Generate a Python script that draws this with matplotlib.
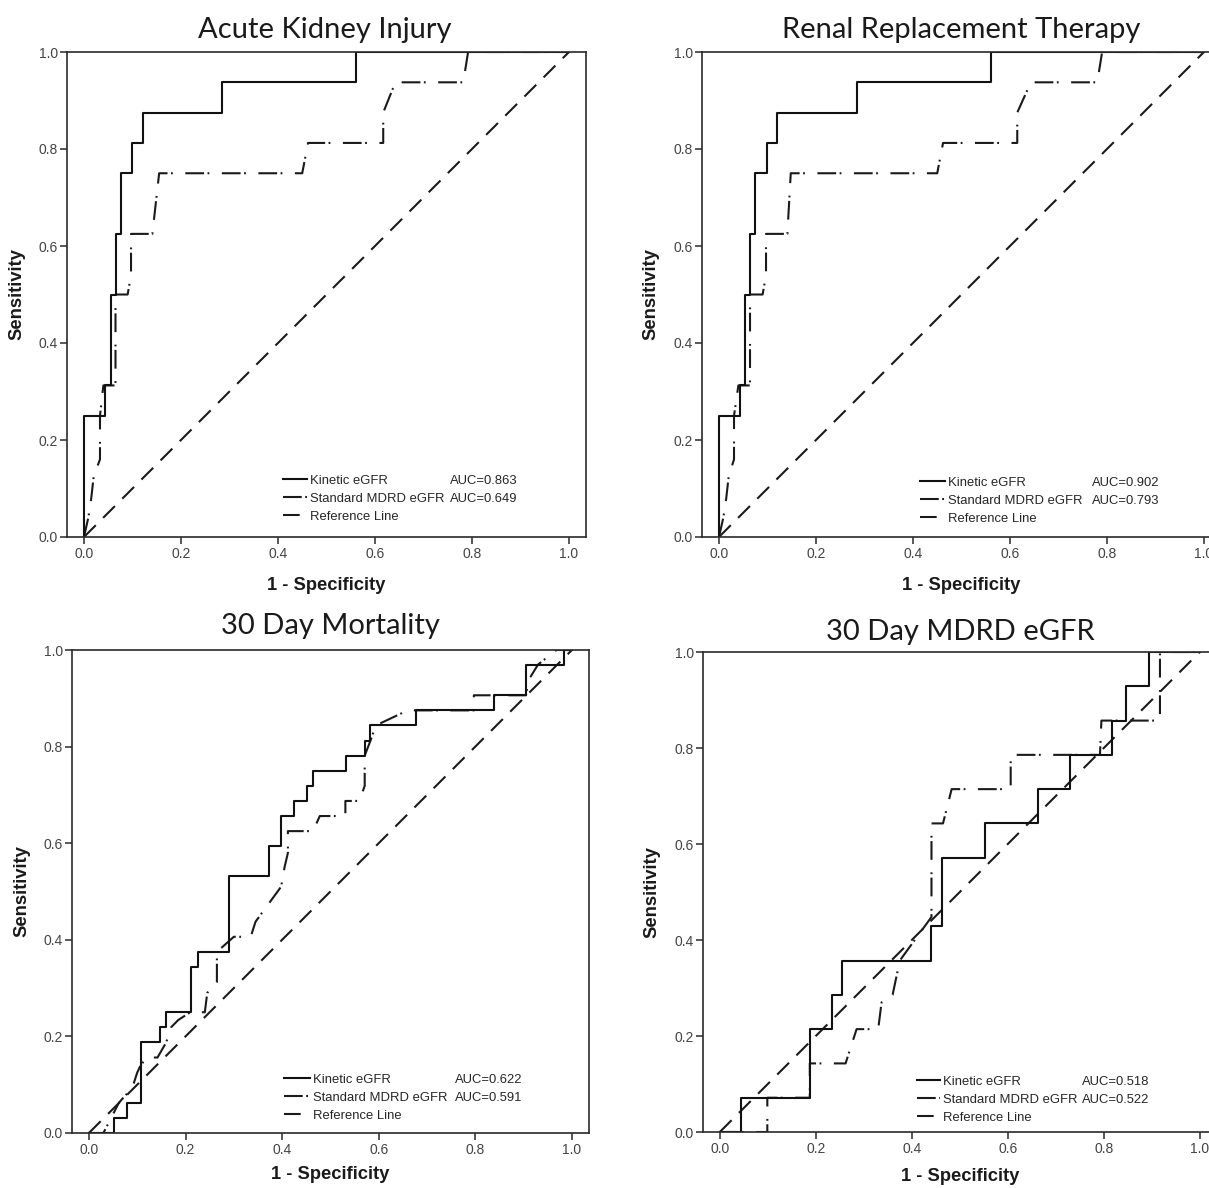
import matplotlib
matplotlib.use("Agg")
import matplotlib.pyplot as plt

W, H = 1209, 1188
plt.rcParams['font.family'] = ['Liberation Sans', 'DejaVu Sans']
plt.rcParams['lines.scale_dashes'] = False

# ---------------- data ----------------
titles = ["Acute Kidney Injury", "Renal Replacement Therapy",
          "30 Day Mortality", "30 Day MDRD eGFR"]
series_names = ["Kinetic eGFR", "Standard MDRD eGFR", "Reference Line"]
auc_kinetic = ["AUC=0.863", "AUC=0.902", "AUC=0.622", "AUC=0.518"]
auc_mdrd = ["AUC=0.649", "AUC=0.793", "AUC=0.591", "AUC=0.522"]
tick_values = [0.0, 0.2, 0.4, 0.6, 0.8, 1.0]
tick_labels = ["0.0", "0.2", "0.4", "0.6", "0.8", "1.0"]
ref_line = [0.0, 1.0]
x_label = "1 - Specificity"
y_label = "Sensitivity"

# Acute Kidney Injury
aki_kin_fpr = [0, 0, 0.044, 0.056, 0.066, 0.077, 0.098, 0.122, 0.285, 0.56, 1.0]
aki_kin_tpr = [0, 0.25, 0.3125, 0.5, 0.625, 0.75, 0.8125, 0.875, 0.9375, 1.0, 1.0]
aki_mdrd_fpr = [0, 0.009, 0.015, 0.02, 0.033, 0.033, 0.04, 0.065, 0.065, 0.09, 0.097,
                0.097, 0.141, 0.155, 0.45, 0.462, 0.617, 0.617, 0.642, 0.782, 0.792, 1.0]
aki_mdrd_tpr = [0, 0.04, 0.08, 0.125, 0.16, 0.25, 0.3125, 0.3125, 0.5, 0.5, 0.54,
                0.625, 0.625, 0.75, 0.75, 0.8125, 0.8125, 0.875, 0.9375, 0.9375, 1.0, 1.0]

# Renal Replacement Therapy
rrt_kin_fpr = [0, 0, 0.043, 0.053, 0.064, 0.074, 0.098, 0.12, 0.284, 0.56, 1.0]
rrt_kin_tpr = [0, 0.25, 0.3125, 0.5, 0.625, 0.75, 0.8125, 0.875, 0.9375, 1.0, 1.0]
rrt_mdrd_fpr = [0, 0.009, 0.015, 0.02, 0.031, 0.031, 0.04, 0.064, 0.064, 0.09, 0.097,
                0.097, 0.141, 0.148, 0.45, 0.462, 0.615, 0.615, 0.643, 0.78, 0.79, 1.0]
rrt_mdrd_tpr = [0, 0.04, 0.08, 0.125, 0.16, 0.25, 0.3125, 0.3125, 0.5, 0.5, 0.54,
                0.625, 0.625, 0.75, 0.75, 0.8125, 0.8125, 0.875, 0.9375, 0.9375, 1.0, 1.0]

# 30 Day Mortality
mort_kin_fpr = [0, 0.0525, 0.079, 0.107, 0.147, 0.16, 0.211, 0.226, 0.291, 0.372, 0.398,
                0.424, 0.452, 0.464, 0.533, 0.571, 0.582, 0.678, 0.838, 0.904, 0.984, 1.0]
mort_kin_tpr = [0, 0.03125, 0.0625, 0.1875, 0.21875, 0.25, 0.34375, 0.375, 0.53125, 0.59375,
                0.65625, 0.6875, 0.71875, 0.75, 0.78125, 0.8125, 0.84375, 0.875, 0.90625,
                0.96875, 1.0, 1.0]
mort_mdrd_fpr = [0, 0.03, 0.062, 0.09, 0.1, 0.107, 0.12, 0.142, 0.16, 0.17, 0.185, 0.21,
                 0.24, 0.245, 0.265, 0.265, 0.30, 0.335, 0.345, 0.398, 0.405, 0.412, 0.412,
                 0.464, 0.478, 0.531, 0.531, 0.56, 0.571, 0.571, 0.583, 0.594, 0.66, 0.797,
                 0.797, 0.905, 0.91, 0.93, 0.968, 1.0]
mort_mdrd_tpr = [0, 0, 0.0625, 0.094, 0.125, 0.14, 0.15625, 0.15625, 0.1875, 0.21875,
                 0.234, 0.25, 0.25, 0.29, 0.3125, 0.375, 0.40625, 0.40625, 0.4375, 0.51,
                 0.55, 0.58, 0.625, 0.625, 0.65625, 0.65625, 0.6875, 0.6875, 0.71875,
                 0.78125, 0.8125, 0.84375, 0.875, 0.875, 0.90625, 0.90625, 0.9375, 0.97,
                 1.0, 1.0]

# 30 Day MDRD eGFR
egfr_kin_fpr = [0, 0.045, 0.1875, 0.233, 0.255, 0.441, 0.463, 0.552, 0.663, 0.729,
                0.818, 0.847, 0.894, 1.0]
egfr_kin_tpr = [0, 0.0714, 0.2143, 0.2857, 0.3571, 0.4286, 0.5714, 0.6429, 0.7143,
                0.7857, 0.8571, 0.9286, 1.0, 1.0]
egfr_mdrd_fpr = [0, 0.099, 0.099, 0.1875, 0.1875, 0.262, 0.285, 0.33, 0.337, 0.36, 0.375,
                 0.441, 0.441, 0.465, 0.483, 0.606, 0.606, 0.792, 0.795, 0.917, 0.917, 1.0]
egfr_mdrd_tpr = [0, 0, 0.0714, 0.0714, 0.1429, 0.1429, 0.2143, 0.2143, 0.27, 0.2857,
                 0.3571, 0.448, 0.6429, 0.6429, 0.7143, 0.7143, 0.7857, 0.7857, 0.8571,
                 0.8571, 1.0, 1.0]

kin_fprs = [aki_kin_fpr, rrt_kin_fpr, mort_kin_fpr, egfr_kin_fpr]
kin_tprs = [aki_kin_tpr, rrt_kin_tpr, mort_kin_tpr, egfr_kin_tpr]
mdrd_fprs = [aki_mdrd_fpr, rrt_mdrd_fpr, mort_mdrd_fpr, egfr_mdrd_fpr]
mdrd_tprs = [aki_mdrd_tpr, rrt_mdrd_tpr, mort_mdrd_tpr, egfr_mdrd_tpr]

# ---------------- layout (pixels) ----------------
ax_left = [67, 702, 72, 703]
ax_top = [52, 52, 650, 652]
ax_unit = [485, 485, 483, 480]
xpad = 0.035
title_cx = [325, 961, 330, 960]
title_base = [38, 38, 634, 640]
xlab_cx = [326, 961, 330, 960]
xlab_base = [590, 590, 1179, 1181]
ylab_x = [17, 651, 22, 652]
leg_hx = [283, 920, 284, 917]
leg_row1 = [479, 481, 1078, 1080]
leg_hlen = [24, 25, 26, 23]
auc_x = [450, 1092, 455, 1082]

FS_LEG = 9.4
fs_px = FS_LEG * 100 / 72.0

fig = plt.figure(figsize=(W / 100, H / 100), dpi=100)
fig.patch.set_facecolor('white')

axes = []
legends = []
for i in range(4):
    u = ax_unit[i]
    w = u * (1 + 2 * xpad)
    h = u
    left = ax_left[i]
    top = ax_top[i]
    ax = fig.add_axes([left / W, 1 - (top + h) / H, w / W, h / H])
    ax.set_xlim(-xpad, 1 + xpad)
    ax.set_ylim(0, 1)

    l_ref, = ax.plot(ref_line, ref_line, color='#1a1a1a', lw=1.5,
                     dashes=(12, 7.5), dash_capstyle='butt', label=series_names[2])
    l_mdrd, = ax.plot(mdrd_fprs[i], mdrd_tprs[i], color='#1a1a1a', lw=1.5,
                      dashes=(13.5, 2.5, 1.3, 9), dash_capstyle='butt',
                      label=series_names[1])
    l_kin, = ax.step(kin_fprs[i], kin_tprs[i], where='post', color='#111111',
                     lw=1.5, label=series_names[0])

    for s in ax.spines.values():
        s.set_color('#2a2a2a')
        s.set_linewidth(1.2)
    ax.set_xticks(tick_values)
    ax.set_xticklabels(tick_labels)
    ax.set_yticks(tick_values)
    ax.set_yticklabels(tick_labels)
    ax.tick_params(axis='both', direction='out', length=5, width=1.1,
                   color='#2a2a2a', labelsize=10, labelcolor='#444444')
    ax.tick_params(axis='x', pad=2.5)
    ax.tick_params(axis='y', pad=1.5)

    fig.text(title_cx[i] / W, 1 - title_base[i] / H, titles[i], ha='center',
             va='baseline', fontsize=21, family=['Lato', 'DejaVu Sans'], color='#1a1a1a')
    fig.text(xlab_cx[i] / W, 1 - xlab_base[i] / H, x_label, ha='center',
             va='baseline', fontsize=13.2, fontweight='bold', color='#1a1a1a')
    fig.text(ylab_x[i] / W, 1 - (top + h / 2) / H, y_label, ha='center',
             va='center', rotation=90, fontsize=13.3, fontweight='bold', color='#1a1a1a')

    leg = ax.legend(handles=[l_kin, l_mdrd, l_ref], loc='upper left',
                    bbox_to_anchor=(leg_hx[i] / W, 1 - (leg_row1[i] - 4.5) / H),
                    bbox_transform=fig.transFigure, frameon=False, fontsize=FS_LEG,
                    borderpad=0, borderaxespad=0, handlelength=leg_hlen[i] / fs_px,
                    handletextpad=0.22, labelspacing=0.45)
    for t in leg.get_texts():
        t.set_color('#262626')
    axes.append(ax)
    legends.append(leg)

fig.canvas.draw()
renderer = fig.canvas.get_renderer()
for i in range(4):
    texts = legends[i].get_texts()
    for j, lab in enumerate([auc_kinetic[i], auc_mdrd[i]]):
        bb = texts[j].get_window_extent(renderer)
        yc = (bb.y0 + bb.y1) / 2
        fig.text(auc_x[i] / W, yc / fig.bbox.height, lab, ha='left', va='center',
                 fontsize=FS_LEG, color='#262626')

fig.savefig("out.png", dpi=100)
